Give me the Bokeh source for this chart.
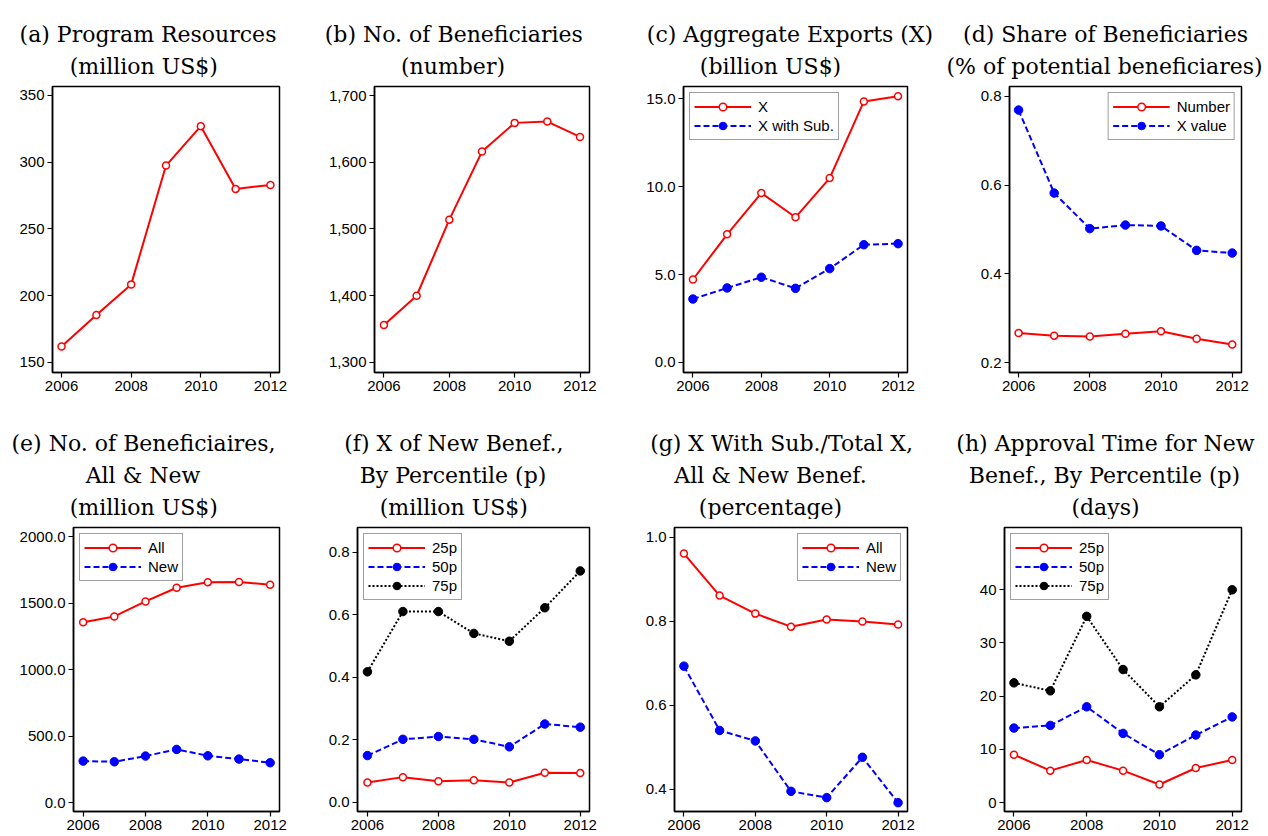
from bokeh.plotting import figure
from bokeh.layouts import row, column
from bokeh.models import Range1d, FixedTicker, NumeralTickFormatter, Legend, LegendItem
from bokeh.core.properties import value
from bokeh.embed import file_html
from bokeh.resources import INLINE

# ---------------- data ----------------
years = [2006, 2007, 2008, 2009, 2010, 2011, 2012]
x_ticks = [2006, 2008, 2010, 2012]

a_resources = [162, 185.5, 208.5, 297.5, 327, 280, 283]
b_benef = [1356, 1400, 1514, 1616, 1659, 1661, 1638]
c_x = [4.72, 7.29, 9.64, 8.26, 10.49, 14.85, 15.15]
c_xsub = [3.61, 4.24, 4.85, 4.22, 5.34, 6.70, 6.76]
d_number = [0.267, 0.261, 0.259, 0.265, 0.271, 0.254, 0.241]
d_xvalue = [0.769, 0.582, 0.502, 0.510, 0.508, 0.453, 0.447]
e_all = [1357, 1401, 1514, 1617, 1659, 1660, 1639]
e_new = [312, 307, 350, 400, 352, 327, 300]
f_25 = [0.064, 0.081, 0.068, 0.071, 0.064, 0.095, 0.094]
f_50 = [0.150, 0.202, 0.211, 0.202, 0.178, 0.251, 0.241]
f_75 = [0.418, 0.611, 0.611, 0.541, 0.516, 0.623, 0.741]
g_all = [0.961, 0.861, 0.818, 0.787, 0.804, 0.799, 0.792]
g_new = [0.693, 0.540, 0.515, 0.395, 0.380, 0.476, 0.368]
h_25 = [9, 6, 8, 6, 3.4, 6.5, 8]
h_50 = [14, 14.5, 18, 13, 9, 12.7, 16.1]
h_75 = [22.5, 21, 35, 25, 18, 24, 40]

a_yticks = [150, 200, 250, 300, 350]
b_yticks = [1300, 1400, 1500, 1600, 1700]
c_yticks = [0, 5, 10, 15]
d_yticks = [0.2, 0.4, 0.6, 0.8]
e_yticks = [0, 500, 1000, 1500, 2000]
f_yticks = [0, 0.2, 0.4, 0.6, 0.8]
g_yticks = [0.4, 0.6, 0.8, 1.0]
h_yticks = [0, 10, 20, 30, 40]

a_title = ["(a) Program Resources", "(million US$)"]
b_title = ["(b) No. of Beneficiaries", "(number)"]
c_title = ["(c) Aggregate Exports (X)", "(billion US$)"]
d_title = ["(d) Share of Beneficiaries", "(% of potential beneficiares)"]
e_title = ["(e) No. of Beneficiaires,", "All & New", "(million US$)"]
f_title = ["(f) X of New Benef.,", "By Percentile (p)", "(million US$)"]
g_title = ["(g) X With Sub./Total X,", "All & New Benef.", "(percentage)"]
h_title = ["(h) Approval Time for New", "Benef., By Percentile (p)", "(days)"]

c_legend = ["X", "X with Sub."]
d_legend = ["Number", "X value"]
e_legend = ["All", "New"]
f_legend = ["25p", "50p", "75p"]
g_legend = ["All", "New"]
h_legend = ["25p", "50p", "75p"]

SANS = "Liberation Sans"
SERIF = "DejaVu Serif"
PAGE_W = 1266


def make_panel(width, height, bl, br, bt, bb, xpad, yr, yticks, yfmt):
    p = figure(width=width, height=height,
               x_range=Range1d(2006 - xpad[0], 2012 + xpad[1]),
               y_range=Range1d(yr[0], yr[1]),
               toolbar_location=None, output_backend="svg",
               min_border_left=bl, min_border_right=br,
               min_border_top=bt, min_border_bottom=bb)
    p.grid.visible = False
    p.outline_line_color = "black"
    p.outline_line_width = 1.5
    p.outline_line_alpha = 1
    p.background_fill_color = "white"
    p.border_fill_color = "white"
    for ax in (p.xaxis[0], p.yaxis[0]):
        ax.major_tick_in = 0
        ax.major_tick_out = 5
        ax.minor_tick_line_color = None
        ax.axis_line_color = "black"
        ax.axis_line_width = 1.5
        ax.major_tick_line_color = "black"
        ax.major_tick_line_width = 1.2
        ax.major_label_text_font = SANS
        ax.major_label_text_font_size = "15px"
        ax.major_label_text_color = "black"
        ax.major_label_standoff = 3
    p.xaxis.ticker = FixedTicker(ticks=x_ticks)
    p.xaxis.formatter = NumeralTickFormatter(format="0")
    p.yaxis.ticker = FixedTicker(ticks=yticks)
    p.yaxis.formatter = NumeralTickFormatter(format=yfmt)
    return p


def title_strip(height, titles, centers, baselines):
    s = figure(width=PAGE_W, height=height, x_range=Range1d(0, PAGE_W),
               y_range=Range1d(height, 0), x_axis_location=None, y_axis_location=None,
               toolbar_location=None, output_backend="svg", min_border=0,
               min_border_left=0, min_border_right=0, min_border_top=0, min_border_bottom=0)
    s.outline_line_color = None
    s.grid.visible = False
    xs, ys, ts = [], [], []
    for lines, cs in zip(titles, centers):
        for t, cx, by in zip(lines, cs, baselines):
            xs.append(cx)
            ys.append(by)
            ts.append(t)
    s.text(x=xs, y=ys, text=ts, text_font=value(SERIF), text_font_size=value("22px"),
           text_align="center", text_baseline="alphabetic", text_color="black")
    return s


def series(p, y, style):
    if style == "red":
        l = p.line(years, y, line_color="red", line_width=2)
        s = p.scatter(years, y, marker="circle", size=7, fill_color="white",
                      line_color="red", line_width=1.5)
    elif style == "blue":
        l = p.line(years, y, line_color="blue", line_width=2, line_dash="6 3")
        s = p.scatter(years, y, marker="circle", size=8.5, fill_color="blue",
                      line_color="blue", line_width=1)
    else:
        l = p.line(years, y, line_color="black", line_width=2, line_dash="2 2")
        s = p.scatter(years, y, marker="circle", size=8.5, fill_color="black",
                      line_color="black", line_width=1)
    return [l, s]


def add_legend(p, labels, rends, loc):
    items = [LegendItem(label=lab, renderers=r) for lab, r in zip(labels, rends)]
    lg = Legend(items=items, location=loc, margin=6, padding=4, spacing=0,
                glyph_width=57, glyph_height=19, label_height=19, label_standoff=7,
                border_line_color="#404040", border_line_width=1.5,
                background_fill_color="white", background_fill_alpha=1,
                label_text_font=SANS, label_text_font_size="15px",
                label_text_color="black")
    p.add_layout(lg)


# row 1: title strip 0-80, panels 80-399 (frame 86-372)
R1H, R1T, R1B = 319, 6, 27
# row 2: title strip 399-519, panels 519-835 (frame 527-811)
R2H, R2T, R2B = 316, 8, 24

strip1 = title_strip(80, [a_title, b_title, c_title, d_title],
                     [[147.5, 143.3], [453.3, 452.5], [789.5, 770], [1105, 1104]],
                     [33.5, 65.5])
strip2 = title_strip(120, [e_title, f_title, g_title, h_title],
                     [[143, 142.5, 143.3], [453.3, 452.5, 453.3], [781, 770, 770], [1105, 1104, 1105]],
                     [44.3, 76, 107.7])

# ---- row 1 ----
pa = make_panel(315, R1H, 52, 36, R1T, R1B, (0.26, 0.26), (142.5, 356.7), a_yticks, "0")
series(pa, a_resources, "red")

pb = make_panel(315, R1H, 59, 41, R1T, R1B, (0.29, 0.29), (1285, 1713.5), b_yticks, "0,0")
series(pb, b_benef, "red")

pc = make_panel(306, R1H, 53, 29, R1T, R1B, (0.276, 0.276), (-0.57, 15.7), c_yticks, "0.0")
rc1 = series(pc, c_x, "red")
rc2 = series(pc, c_xsub, "blue")
add_legend(pc, c_legend, [rc1, rc2], "top_left")

pd = make_panel(330, R1H, 73, 25, R1T, R1B, (0.255, 0.26), (0.178, 0.822), d_yticks, "0.0")
rd1 = series(pd, d_number, "red")
rd2 = series(pd, d_xvalue, "blue")
add_legend(pd, d_legend, [rd1, rd2], "top_right")

# ---- row 2 ----
pe = make_panel(315, R2H, 73, 36, R2T, R2B, (0.31, 0.3), (-67.4, 2070.4), e_yticks, "0.0")
re1 = series(pe, e_all, "red")
re2 = series(pe, e_new, "blue")
add_legend(pe, e_legend, [re1, re2], "top_left")

pf = make_panel(315, R2H, 42, 41, R2T, R2B, (0.28, 0.26), (-0.029, 0.88), f_yticks, "0.0")
rf1 = series(pf, f_25, "red")
rf2 = series(pf, f_50, "blue")
rf3 = series(pf, f_75, "black")
add_legend(pf, f_legend, [rf1, rf2, rf3], "top_left")

pg = make_panel(315, R2H, 44, 38, R2T, R2B, (0.264, 0.264), (0.347, 1.023), g_yticks, "0.0")
rg1 = series(pg, g_all, "red")
rg2 = series(pg, g_new, "blue")
add_legend(pg, g_legend, [rg1, rg2], "top_right")

ph = make_panel(321, R2H, 59, 25, R2T, R2B, (0.26, 0.256), (-1.68, 51.7), h_yticks, "0")
rh1 = series(ph, h_25, "red")
rh2 = series(ph, h_50, "blue")
rh3 = series(ph, h_75, "black")
add_legend(ph, h_legend, [rh1, rh2, rh3], "top_left")

layout = column(strip1, row(pa, pb, pc, pd), strip2, row(pe, pf, pg, ph))
open("out.html", "w").write(file_html(layout, INLINE))
